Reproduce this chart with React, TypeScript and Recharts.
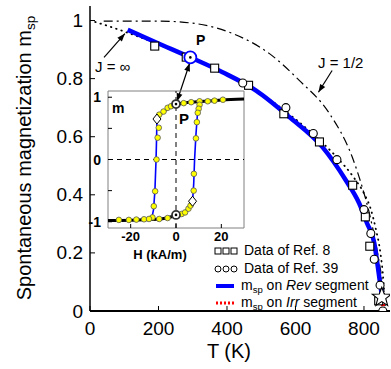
import React from "react";
import {
  ComposedChart,
  Line,
  Scatter,
  XAxis,
  YAxis,
  ReferenceLine,
  ReferenceArea,
} from "recharts";

const FONT = "'Liberation Sans', Arial, Helvetica, sans-serif";

// ---- main panel: m_sp vs T ----
const tTicks = [0, 200, 400, 600, 800];
const mTicks = [0, 0.2, 0.4, 0.6, 0.8, 1];

const revCurve = [
  [110, 0.968], [200, 0.921], [291, 0.874], [387, 0.822], [485, 0.759],
  [582, 0.668], [679, 0.564], [747, 0.45], [786, 0.371], [809, 0.302],
  [830, 0.234], [839, 0.165], [847, 0.096], [853, 0.048],
];
const irrCurve = [[853, 0.048], [855, 0.022], [856, 0.0]];
const jInfCurve = [
  [15, 0.995], [48, 0.983], [78, 0.971], [110, 0.958], [165, 0.934],
  [250, 0.893], [350, 0.843], [450, 0.784], [550, 0.706], [650, 0.61],
  [720, 0.53], [770, 0.46], [800, 0.405], [820, 0.35], [835, 0.28],
  [848, 0.2], [857, 0.1], [862, 0.0],
];
const jHalfCurve = [
  [40, 0.998], [200, 0.998], [311, 0.989], [417, 0.955], [524, 0.886],
  [611, 0.794], [699, 0.68], [766, 0.529], [795, 0.426], [815, 0.34],
  [835, 0.23], [850, 0.13], [862, 0.04],
];
const ref8 = [
  [189, 0.912], [281, 0.874], [364, 0.836], [463, 0.777], [566, 0.679],
  [670, 0.582], [767, 0.433], [804, 0.324], [817, 0.223], [843, 0.035],
];
const ref39 = [
  [446, 0.785], [572, 0.7], [652, 0.611], [721, 0.521], [800, 0.349],
  [820, 0.267], [830, 0.178], [847, 0.089], [855, 0.0],
];
const pointP = [[293, 0.873]];
const tcStar = [[852, 0.047]];

// ---- inset: hysteresis loop m(H) ----
const hTicks = [-20, 0, 20];
const loopTicks = [-1, -0.5, 0, 0.5, 1];

const upperEnvelope = [
  [-8.4, 0.65], [-7, 0.72], [-5, 0.78], [-3, 0.84], [-1, 0.88], [0, 0.89],
  [2, 0.9], [5, 0.915], [10, 0.93], [15, 0.94], [20, 0.955], [30, 0.97],
];
const lowerEnvelope = [
  [-30, -0.98], [-20, -0.975], [-12, -0.965], [-6, -0.95], [-2, -0.92],
  [0, -0.89], [2, -0.87], [4, -0.84], [5.5, -0.79], [6.5, -0.74], [7.3, -0.67],
];
const leftJump = [
  [-8.4, 0.65], [-8.6, 0.3], [-8.8, 0.0], [-9.3, -0.5], [-9.9, -0.8], [-10.6, -0.93],
];
const rightJump = [
  [7.3, -0.67], [7.8, -0.4], [8.2, 0.0], [8.8, 0.4], [9.5, 0.75], [10.5, 0.9], [11, 0.93],
];
const loopDots = [
  [-7.4, 0.72], [-5.5, 0.77], [-3.7, 0.83], [-2.2, 0.855], [3.4, 0.905],
  [6.7, 0.92], [10.4, 0.935], [14, 0.935], [17, 0.945], [20.7, 0.96],
  [10.4, 0.88], [10, 0.815], [9.6, 0.75], [9.2, 0.6], [8.8, 0.34],
  [7.9, -0.23], [7.8, -0.5],
  [-7.6, 0.51], [-8.1, 0.35], [-8.6, 0.0], [-9.2, -0.51], [-9.8, -0.75],
  [-10.4, -0.93],
  [-25.2, -0.97], [-20.8, -0.97], [-17.5, -0.965], [-14.1, -0.96],
  [-11.9, -0.955], [-7.4, -0.955], [-3.7, -0.94], [2.5, -0.875],
  [4, -0.85], [5.5, -0.79], [6.4, -0.74],
];
const diamonds = [[-8.4, 0.65], [7.3, -0.67]];
const insetP = [[0, 0.89], [0, -0.89]];

const xy = (arr: number[][]) => arr.map(([x, y]) => ({ x, y }));

const fmtM = (v: number) => (v === 0 || v === 1 ? String(v) : v.toFixed(1));

// inward ticks, matlab style
function LeftTick(p: any) {
  const { x, y, payload, margin, len, size, bold, show } = p;
  const ax = x + margin;
  const txt = show ? show(payload.value) : fmtM(payload.value);
  return (
    <g>
      <line x1={ax} x2={ax + len} y1={y} y2={y} stroke="#000" strokeWidth={1} />
      {txt !== "" && (
        <text x={x} y={y} textAnchor="end" dominantBaseline="central" fontSize={size}
          fontWeight={bold ? "bold" : "normal"} fontFamily={FONT} fill="#000">{txt}</text>
      )}
    </g>
  );
}
function RightTick(p: any) {
  const { x, y, len } = p;
  return <line x1={x} x2={x - len} y1={y} y2={y} stroke="#000" strokeWidth={1} />;
}
function BottomTick(p: any) {
  const { x, y, payload, margin, len, size, bold } = p;
  const ay = y - margin;
  return (
    <g>
      <line x1={x} x2={x} y1={ay} y2={ay - len} stroke="#000" strokeWidth={1} />
      <text x={x} y={y} dy="0.72em" textAnchor="middle" fontSize={size}
        fontWeight={bold ? "bold" : "normal"} fontFamily={FONT} fill="#000">{payload.value}</text>
    </g>
  );
}
function TopTick(p: any) {
  const { x, y, len } = p;
  return <line x1={x} x2={x} y1={y} y2={y + len} stroke="#000" strokeWidth={1} />;
}

const square = (p: any) => (
  <rect x={p.cx - 4} y={p.cy - 4} width={8} height={8} fill="#fff" stroke="#000" strokeWidth={1.1} />
);
const circle = (p: any) => (
  <circle cx={p.cx} cy={p.cy} r={4} fill="#fff" stroke="#000" strokeWidth={1.1} />
);
const star = (p: any) => {
  const pts = [];
  for (let i = 0; i < 10; i++) {
    const r = i % 2 === 0 ? 10 : 4.2;
    const a = -Math.PI / 2 + (i * Math.PI) / 5;
    pts.push(`${p.cx + r * Math.cos(a)},${p.cy + r * Math.sin(a)}`);
  }
  return <polygon points={pts.join(" ")} fill="#fff" stroke="#000" strokeWidth={1.1} />;
};
const pMark = (color: string, r: number) => (p: any) => (
  <g>
    <circle cx={p.cx} cy={p.cy} r={r} fill="#fff" stroke={color} strokeWidth={1.8} />
    <circle cx={p.cx} cy={p.cy} r={1.3} fill="#000" />
  </g>
);
const yellowDot = (p: any) => (
  <circle cx={p.cx} cy={p.cy} r={2.8} fill="#ffff00" stroke="#555" strokeWidth={0.8} />
);
const diamond = (p: any) => (
  <polygon points={`${p.cx},${p.cy - 5} ${p.cx + 4},${p.cy} ${p.cx},${p.cy + 5} ${p.cx - 4},${p.cy}`}
    fill="#fff" stroke="#000" strokeWidth={1} />
);

// arrow drawn along a reference segment
const arrow = (both: boolean) => (p: any) => {
  const { x1, y1, x2, y2 } = p;
  const head = (xa: number, ya: number, xb: number, yb: number) => {
    const a = Math.atan2(yb - ya, xb - xa);
    const L = 8, W = 3;
    const bx = xb - L * Math.cos(a), by = yb - L * Math.sin(a);
    const px = -Math.sin(a) * W, py = Math.cos(a) * W;
    return `${xb},${yb} ${bx + px},${by + py} ${bx - px},${by - py}`;
  };
  return (
    <g>
      <line x1={x1} y1={y1} x2={x2} y2={y2} stroke="#000" strokeWidth={1.2} />
      <polygon points={head(x1, y1, x2, y2)} fill="#000" />
      {both && <polygon points={head(x2, y2, x1, y1)} fill="#000" />}
    </g>
  );
};

const Sub = ({ children }: { children: React.ReactNode }) => (
  <span style={{ fontSize: "0.68em", position: "relative", top: "0.3em" }}>{children}</span>
);

const abs = (left: number, top: number, extra: React.CSSProperties = {}): React.CSSProperties => ({
  position: "absolute", left, top, lineHeight: 1, whiteSpace: "nowrap", ...extra,
});

export default function App() {
  return (
    <div style={{ position: "absolute", left: 0, top: 0, width: 391, height: 369, background: "#fff", fontFamily: FONT, overflow: "hidden" }}>
      <ComposedChart width={391} height={369} margin={{ top: 6, right: 1, bottom: 0, left: 0 }}>
        <XAxis dataKey="x" type="number" domain={[0, 876]} ticks={tTicks} height={58}
          tickSize={0} tickMargin={10} allowDataOverflow
          axisLine={{ stroke: "#000", strokeWidth: 2 }}
          tick={(p: any) => <BottomTick {...p} margin={10} len={5} size={19} />} />
        <XAxis xAxisId="top" orientation="top" dataKey="x" type="number" domain={[0, 876]}
          ticks={tTicks} height={0} tickSize={0} tickMargin={0} allowDataOverflow
          axisLine={{ stroke: "#000", strokeWidth: 1.5 }}
          tick={(p: any) => <TopTick {...p} len={5} />} />
        <YAxis dataKey="y" type="number" domain={[0, 1.05]} ticks={mTicks} width={90}
          tickSize={0} tickMargin={7} allowDataOverflow
          axisLine={{ stroke: "#000", strokeWidth: 1.5 }}
          tick={(p: any) => <LeftTick {...p} margin={7} len={5} size={19} />} />

        <Line data={xy(jHalfCurve)} dataKey="y" type="monotone" stroke="#000" strokeWidth={1.2}
          strokeDasharray="9 4 2 4" dot={false} isAnimationActive={false} />
        <Line data={xy(jInfCurve)} dataKey="y" type="monotone" stroke="#000" strokeWidth={1.8}
          strokeDasharray="0.5 5" strokeLinecap="round" dot={false} isAnimationActive={false} />
        <Line data={xy(revCurve)} dataKey="y" type="monotone" stroke="#0000ff" strokeWidth={4.5}
          dot={false} isAnimationActive={false} />

        <Scatter data={xy(ref8)} dataKey="y" shape={square} isAnimationActive={false} />
        <Scatter data={xy(ref39)} dataKey="y" shape={circle} isAnimationActive={false} />
        <Scatter data={xy(tcStar)} dataKey="y" shape={star} isAnimationActive={false} />
        <Line data={xy(irrCurve)} dataKey="y" type="linear" stroke="#ff0000" strokeWidth={4}
          strokeDasharray="2 1.5" dot={false} isAnimationActive={false} />
        <Scatter data={xy(pointP)} dataKey="y" shape={pMark("#0000ff", 6)} isAnimationActive={false} />

        <ReferenceLine segment={[{ x: 41, y: 0.873 }, { x: 102, y: 0.955 }]} ifOverflow="visible" shape={arrow(false)} />
        <ReferenceLine segment={[{ x: 707, y: 0.828 }, { x: 667, y: 0.753 }]} ifOverflow="visible" shape={arrow(false)} />
        <ReferenceLine segment={[{ x: 291, y: 0.853 }, { x: 254, y: 0.722 }]} ifOverflow="visible" shape={arrow(true)} />
      </ComposedChart>

      {/* inset */}
      <div style={{ position: "absolute", left: 48, top: 85 }}>
        <ComposedChart width={200} height={180} margin={{ top: 6, right: 4, bottom: 0, left: 0 }}>
          <XAxis dataKey="x" type="number" domain={[-30, 30]} ticks={hTicks} height={37}
            tickSize={0} tickMargin={4} axisLine={false} allowDataOverflow
            tick={(p: any) => <BottomTick {...p} margin={4} len={4} size={13} bold />} />
          <XAxis xAxisId="top" orientation="top" dataKey="x" type="number" domain={[-30, 30]}
            ticks={hTicks} height={0} tickSize={0} tickMargin={0} axisLine={false} allowDataOverflow
            tick={(p: any) => <TopTick {...p} len={4} />} />
          <YAxis dataKey="y" type="number" domain={[-1.1, 1.1]} ticks={loopTicks} width={60}
            tickSize={0} tickMargin={7} axisLine={false} allowDataOverflow
            tick={(p: any) => (
              <LeftTick {...p} margin={7} len={4} size={14} bold
                show={(v: number) => (Number.isInteger(v) ? String(v) : "")} />
            )} />
          <YAxis yAxisId="right" orientation="right" dataKey="y" type="number" domain={[-1.1, 1.1]}
            ticks={loopTicks} width={0} tickSize={0} tickMargin={0} axisLine={false} allowDataOverflow
            tick={(p: any) => <RightTick {...p} len={4} />} />

          <ReferenceArea x1={-30} x2={30} y1={-1.1} y2={1.1} fill="#fff" fillOpacity={0}
            stroke="#808080" strokeWidth={1} />
          <ReferenceLine x={0} stroke="#000" strokeDasharray="5 4" />
          <ReferenceLine y={0} stroke="#000" strokeDasharray="5 4" />

          <Line data={xy(leftJump)} dataKey="y" type="linear" stroke="#0000ff" strokeWidth={1.6}
            dot={false} isAnimationActive={false} />
          <Line data={xy(rightJump)} dataKey="y" type="linear" stroke="#0000ff" strokeWidth={1.6}
            dot={false} isAnimationActive={false} />
          <Line data={xy(upperEnvelope)} dataKey="y" type="monotone" stroke="#000" strokeWidth={3}
            dot={false} isAnimationActive={false} />
          <Line data={xy(lowerEnvelope)} dataKey="y" type="monotone" stroke="#000" strokeWidth={3}
            dot={false} isAnimationActive={false} />
          <Scatter data={xy(loopDots)} dataKey="y" shape={yellowDot} isAnimationActive={false} />
          <Scatter data={xy(diamonds)} dataKey="y" shape={diamond} isAnimationActive={false} />
          <Scatter data={xy(insetP)} dataKey="y" shape={pMark("#333", 4)} isAnimationActive={false} />
        </ComposedChart>
      </div>

      {/* texts */}
      <div style={abs(24, 158, { fontSize: 20, transform: "translate(-50%, -50%) rotate(-90deg)" })}>
        Spontaneous magnetization m<Sub>sp</Sub>
      </div>
      <div style={abs(229, 351, { fontSize: 20, transform: "translate(-50%, -50%)" })}>T (K)</div>
      <div style={abs(160, 254, { fontSize: 13, fontWeight: "bold", transform: "translate(-50%, -50%)" })}>H (kA/m)</div>

      <div style={abs(95, 59, { fontSize: 15 })}>J = ∞</div>
      <div style={abs(318, 55, { fontSize: 15 })}>J = 1/2</div>
      <div style={abs(196, 33, { fontSize: 14, fontWeight: "bold" })}>P</div>
      <div style={abs(112, 101, { fontSize: 14, fontWeight: "bold" })}>m</div>
      <div style={abs(179, 111, { fontSize: 15, fontWeight: "bold" })}>P</div>

      {/* legend */}
      <div style={abs(214, 243, { fontSize: 14 })}>
        <svg width={26} height={12} style={{ verticalAlign: "middle", marginRight: 4 }}>
          {[4, 12, 20].map((cx) => (
            <rect key={cx} x={cx - 3} y={3} width={6} height={6} fill="#fff" stroke="#000" strokeWidth={1} />
          ))}
        </svg>
        Data of Ref. 8
      </div>
      <div style={abs(214, 261, { fontSize: 14 })}>
        <svg width={26} height={12} style={{ verticalAlign: "middle", marginRight: 4 }}>
          {[4, 12, 20].map((cx) => (
            <circle key={cx} cx={cx} cy={6} r={3} fill="#fff" stroke="#000" strokeWidth={1} />
          ))}
        </svg>
        Data of Ref. 39
      </div>
      <div style={abs(214, 278, { fontSize: 14 })}>
        <svg width={24} height={12} style={{ verticalAlign: "middle", marginRight: 3 }}>
          <line x1={2} x2={20} y1={6} y2={6} stroke="#0000ff" strokeWidth={4} />
        </svg>
        m<Sub>sp</Sub> on <i>Rev</i> segment
      </div>
      <div style={abs(214, 295, { fontSize: 14 })}>
        <svg width={24} height={12} style={{ verticalAlign: "middle", marginRight: 3 }}>
          <line x1={2} x2={20} y1={6} y2={6} stroke="#ff0000" strokeWidth={3} strokeDasharray="2 2" />
        </svg>
        m<Sub>sp</Sub> on <i>Irr</i> segment
      </div>
    </div>
  );
}
